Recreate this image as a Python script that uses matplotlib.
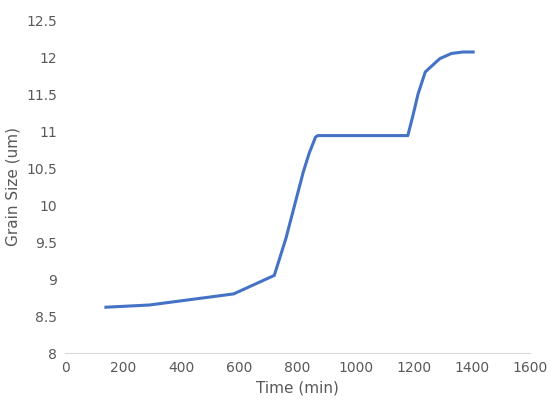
import matplotlib
matplotlib.use("Agg")
import matplotlib.pyplot as plt

time_min = [140, 290, 580, 720, 740, 760, 780, 800, 820, 840, 862, 870, 1180, 1200, 1215, 1240, 1290, 1330, 1370, 1405]
grain_um = [8.62, 8.65, 8.80, 9.05, 9.3, 9.55, 9.85, 10.15, 10.45, 10.7, 10.92, 10.94, 10.94, 11.25, 11.5, 11.8, 11.98, 12.05, 12.07, 12.07]

fig = plt.figure(figsize=(5.53, 4.12), dpi=100)
ax = fig.add_axes([0.118, 0.143, 0.84, 0.808])
ax.plot(time_min, grain_um, color="#4472C4", lw=2.2)
ax.set_xlim(0, 1600)
ax.set_ylim(8, 12.5)
ax.set_xticks(range(0, 1601, 200))
ax.set_yticks([8, 8.5, 9, 9.5, 10, 10.5, 11, 11.5, 12, 12.5])
ax.set_yticklabels(["8", "8.5", "9", "9.5", "10", "10.5", "11", "11.5", "12", "12.5"])
for s in ["top", "right", "left"]:
    ax.spines[s].set_visible(False)
ax.spines["bottom"].set_color("#D9D9D9")
ax.tick_params(length=0, labelsize=10, colors="#595959", pad=6)
ax.set_xlabel("Time (min)", fontsize=11, color="#595959")
ax.set_ylabel("Grain Size (um)", fontsize=11, color="#595959")
fig.savefig("out.png", dpi=100)
